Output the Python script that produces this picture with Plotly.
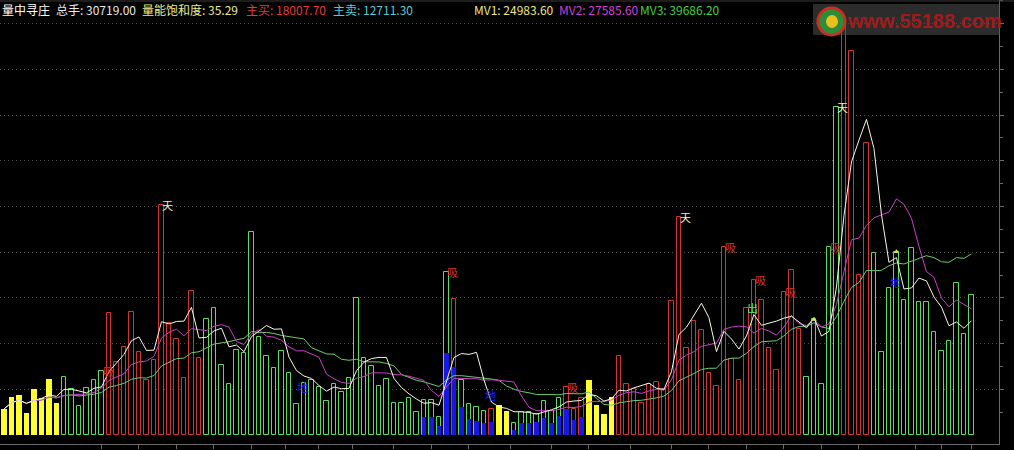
import plotly.graph_objects as go
import pandas as pd

W, H = 1014, 450
PLOT_R = 999
PLOT_B = 444

# ---- data (volume in 手), one value per trading day ----
volume = [5700, 8400, 8750, 4900, 10000, 8000, 12300, 7000, 12600, 10000,
          6300, 10200, 12000, 14100, 26800, 16000, 19300, 27000, 18200, 12000,
          16400, 50300, 24600, 20900, 12400, 31500, 16800, 25300, 27900, 15300,
          11200, 18700, 18000, 44400, 21400, 17300, 14600, 18400, 13500, 6700,
          11300, 12000, 10600, 7400, 11200, 9400, 12400, 29900, 16800, 15100,
          10700, 12300, 6900, 6900, 8200, 5000, 7700, 7700, 4000, 35600,
          29800, 12000, 6800, 6200, 5300, 5700, 6600, 5300, 2600, 5100,
          5100, 4700, 7400, 5300, 8200, 10500, 5800, 8000, 12000, 6600,
          4700, 8400, 17300, 11200, 10000, 7100, 11100, 11700, 10000, 29400,
          47800, 19000, 25000, 23000, 13500, 10700, 41200, 16600, 12000, 27900,
          34000, 29500, 19000, 14200, 31200, 36000, 23300, 12600, 25300, 11100,
          41100, 71800, 90600, 84100, 35000, 63800, 39900, 18200, 32100, 40100,
          29500, 41000, 29000, 29000, 22500, 18400, 20600, 33200, 22100, 30700]

# bar style per day: Y = yellow filled, R = red hollow (up), G = green hollow (down)
bar_kind = ("YYYYYYYYGGGGGGRRRRRRRRRRRRRGGGGGGGGGGGGGGGGGGGGGGGGGGGGGGGGG"
            "RGGGGRYYGGGGGGGRRRYYYYRRRRRRRRRRRRRRRRRRRRRRRRRGGGGGRRRRGGGGGGGGGGGGGG")

# blue "main force" fill inside some bars
blue_idx = [56, 57, 58, 59, 60, 61, 62, 63, 64, 65, 68, 69, 70, 71, 72, 73, 74, 75, 76, 77]
blue_vol = [4000, 4000, 2000, 18000, 14800, 6200, 3600, 3100, 2600, 2900,
            1200, 2600, 2700, 2900, 3800, 2600, 4200, 5600, 3300, 4000]

# signal labels
label_idx = [13, 21, 39, 59, 64, 75, 90, 96, 99, 100, 104, 110, 111, 118]
label_text = ["吸", "天", "地", "吸", "地", "吸", "天", "吸", "出", "吸", "吸", "吸", "天", "地"]
label_y = [14100, 50300, 10500, 35600, 8750, 10500, 47800, 41200, 27900, 34000, 31200, 41100, 71800, 33500]

# small signal dots on bar tops
dot_idx = [108, 119]

tick_idx = [13, 18, 23, 28, 33, 37.5, 42, 46.5, 52, 57, 62, 67.5, 73, 78, 83.5, 89, 94, 99, 104, 109, 114, 121.5, 125, 129]

header = ["量中寻庄", "总手: 30719.00", "量能饱和度: 35.29", "主买: 18007.70",
          "主卖: 12711.30", "MV1: 24983.60", "MV2: 27585.60", "MV3: 39686.20"]

# ---- colours ----
RED = "#D03434"
GREEN = "#5CDC5C"
YELLOW = "#FFFF30"
BLUE = "#1818E0"
LBL_COL = {"天": "#F4F0B8", "吸": "#D83030", "地": "#2020FF", "出": "#60E060"}
HDR_COL = ["#FFFFFF", "#E8E8E8", "#ECEC90", "#E03C3C", "#5AC8D2", "#E8E88C", "#D040D0", "#40D040"]
HDR_X = [0, 54, 140, 244, 331, 472, 557, 638]

s = pd.Series(volume, dtype=float)
mv1 = s.rolling(5, min_periods=1).mean()
mv2 = s.rolling(10, min_periods=1).mean()
mv3 = s.rolling(20, min_periods=1).mean()

idx = list(range(len(volume)))
fig = go.Figure()

for code, col in (("R", RED), ("G", GREEN)):
    xs = [i for i in idx if bar_kind[i] == code]
    fig.add_bar(x=xs, y=[volume[i] for i in xs], width=0.56,
                marker=dict(color="#000000", line=dict(color=col, width=1)),
                showlegend=False, hoverinfo="skip")

ys = [i for i in idx if bar_kind[i] == "Y"]
fig.add_bar(x=ys, y=[volume[i] for i in ys], width=0.74,
            marker=dict(color=YELLOW, line=dict(width=0)), showlegend=False, hoverinfo="skip")
fig.add_bar(x=blue_idx, y=blue_vol, width=0.62,
            marker=dict(color=BLUE, line=dict(width=0)), showlegend=False, hoverinfo="skip")

fig.add_scatter(x=idx, y=mv3, mode="lines", line=dict(color="#6CCC6C", width=1), showlegend=False)
fig.add_scatter(x=idx, y=mv2, mode="lines", line=dict(color="#C840C8", width=1), showlegend=False)
fig.add_scatter(x=idx, y=mv1, mode="lines", line=dict(color="#F8F8E4", width=1), showlegend=False)
fig.add_scatter(x=dot_idx, y=[volume[i] for i in dot_idx], mode="markers",
                marker=dict(symbol="triangle-up", size=5, color="#CCE84A"), showlegend=False)

ann = []
for i, t, yv in zip(label_idx, label_text, label_y):
    ann.append(dict(x=i, y=yv, xref="x", yref="y", text=t, showarrow=False,
                    xanchor="left", yanchor="middle", xshift=-1,
                    font=dict(family="Noto Sans CJK SC", size=11, color=LBL_COL[t])))

def px2x(px):
    return px / PLOT_R

def py2y(py):
    return 1 - py / PLOT_B

for t, c, x in zip(header, HDR_COL, HDR_X):
    ann.append(dict(x=px2x(x), y=py2y(9), xref="paper", yref="paper", text=t,
                    showarrow=False, xanchor="left", yanchor="middle",
                    font=dict(family="Noto Sans CJK SC", size=12, color=c)))

# watermark
ann.append(dict(x=px2x(924), y=py2y(21), xref="paper", yref="paper", text="<b>www.55188.com</b>",
                showarrow=False, xanchor="center", yanchor="middle",
                font=dict(family="Liberation Sans", size=20, color="#A01C1C")))

shapes = [
    dict(type="rect", xref="paper", yref="paper", x0=px2x(813), x1=px2x(1000),
         y0=py2y(35), y1=py2y(4), fillcolor="rgba(80,80,80,0.55)", line=dict(width=0), layer="above"),
    dict(type="circle", xref="paper", yref="paper", x0=px2x(818), x1=px2x(845),
         y0=py2y(35), y1=py2y(8), fillcolor="#2E8B3A", line=dict(color="#C83020", width=3), layer="above"),
    dict(type="circle", xref="paper", yref="paper", x0=px2x(826), x1=px2x(838),
         y0=py2y(28), y1=py2y(15), fillcolor="#E8C020", line=dict(width=0), layer="above"),
    dict(type="line", xref="paper", yref="paper", x0=0, x1=1.02, y0=py2y(1), y1=py2y(1),
         line=dict(color="#3A3A3A", width=1)),
]

fig.update_layout(
    width=W, height=H, margin=dict(l=0, r=W - PLOT_R, t=0, b=H - PLOT_B, autoexpand=False),
    paper_bgcolor="#000000", plot_bgcolor="#000000", barmode="overlay", bargap=0,
    annotations=ann, shapes=shapes,
)
fig.update_xaxes(range=[-0.533, 132.67], showgrid=False, zeroline=False, automargin=False,
                 showline=True, linecolor="#6A6A6A", linewidth=1,
                 tickmode="array", tickvals=tick_idx, ticks="outside", ticklen=4,
                 tickcolor="#6A6A6A", showticklabels=False, fixedrange=True)
fig.update_yaxes(range=[-1969, 95186], side="right", zeroline=False, automargin=False,
                 tickmode="array", tickvals=[10000 * k for k in range(1, 10)],
                 showticklabels=False,
                 showgrid=True, gridcolor="#505050", griddash="1px,3px", gridwidth=1,
                 showline=True, linecolor="#6A6A6A", linewidth=1,
                 ticks="outside", ticklen=4, tickcolor="#6A6A6A",
                 minor=dict(tickvals=[5000 + 10000 * k for k in range(0, 10)], ticks="outside",
                            ticklen=3, tickcolor="#6A6A6A", showgrid=False),
                 fixedrange=True)

fig.write_html("out.html", config={"displayModeBar": False},
               post_script="document.body.style.margin='0';document.body.style.background='#000';")
